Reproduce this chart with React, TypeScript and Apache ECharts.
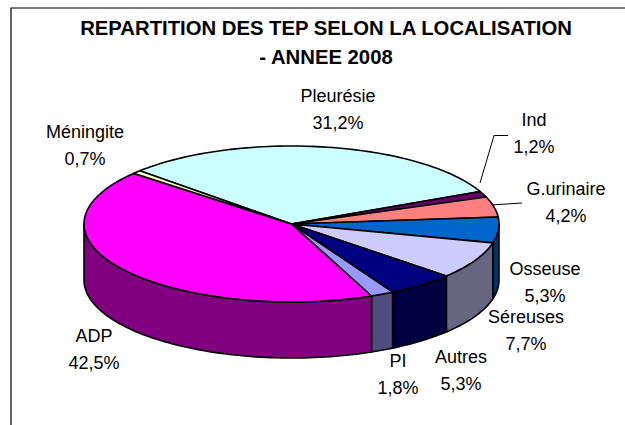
import React, { useEffect, useRef } from "react";
import * as echarts from "echarts";

const categories = ["Pleurésie", "Ind", "G.urinaire", "Osseuse", "Séreuses", "Autres", "PI", "ADP", "Méningite"];
const shares = [31.2, 1.2, 4.2, 5.3, 7.7, 5.3, 1.8, 42.5, 0.7];
const topColors = ["#CCFFFF", "#660066", "#FF8080", "#0066CC", "#CCCCFF", "#000080", "#9999FF", "#FF00FF", "#FFFFCC"];
const sideColors = ["#668080", "#330033", "#804040", "#003366", "#666680", "#000040", "#4D4D80", "#800080", "#808066"];
const labelCentres = [[338, 96], [534, 120], [566, 189], [545, 269], [526, 317], [461, 357], [398, 361], [94, 336], [85, 132]];
const titleLines = "REPARTITION DES TEP SELON LA LOCALISATION\n- ANNEE 2008";

const CX = 291.5, CY = 224, RX = 207.5, RY = 78, DEPTH = 56, START = -47;
const total = shares.reduce((a, b) => a + b, 0);
const rad = (d: number) => (d * Math.PI) / 180;
const px = (d: number) => CX + RX * Math.sin(rad(d));
const py = (d: number) => CY - RY * Math.cos(rad(d));

function arc(a: number, b: number, dy = 0) {
  const pts: number[][] = [];
  const n = Math.max(2, Math.ceil(Math.abs(b - a) / 1.5));
  for (let i = 0; i <= n; i++) {
    const t = a + ((b - a) * i) / n;
    pts.push([px(t), py(t) + dy]);
  }
  return pts;
}
function range(i: number) {
  const before = shares.slice(0, i).reduce((x, y) => x + y, 0);
  return [START + (before / total) * 360, START + ((before + shares[i]) / total) * 360];
}
const line = { stroke: "#000", lineWidth: 1.6, lineJoin: "round" as const };

const renderSide = (_: any, api: any) => {
  const i = api.value(0) as number;
  const [a, b] = range(i);
  const parts: any[] = [];
  for (const [lo, hi] of [[90, 270], [450, 630]]) {
    const s = Math.max(a, lo), e = Math.min(b, hi);
    if (e > s) {
      const pts = [...arc(s, e), ...arc(e, s, DEPTH)];
      parts.push({ type: "polygon", shape: { points: pts }, style: { fill: sideColors[i], ...line } });
    }
  }
  return { type: "group", children: parts };
};
const renderTop = (_: any, api: any) => {
  const i = api.value(0) as number;
  const [a, b] = range(i);
  return {
    type: "polygon",
    shape: { points: [[CX, CY], ...arc(a, b)] },
    style: { fill: topColors[i], ...line },
  };
};

const fmt = (v: number) => `${v.toFixed(1).replace(".", ",")}%`;

export default function App() {
  const ref = useRef<HTMLDivElement>(null);
  useEffect(() => {
    const chart = echarts.init(ref.current!, undefined, { renderer: "svg" });
    const data = shares.map((v, i) => [i, v]);
    chart.setOption({
      animation: false,
      title: {
        text: titleLines,
        left: 321,
        top: 8,
        textAlign: "center",
        textStyle: { fontFamily: "Liberation Sans", fontSize: 20.3, fontWeight: "bold", color: "#000", lineHeight: 29 },
      },
      series: [
        { type: "custom", coordinateSystem: "none", data, renderItem: renderSide, silent: true, z: 2 },
        { type: "custom", coordinateSystem: "none", data, renderItem: renderTop, silent: true, z: 3 },
      ],
      graphic: [
        { type: "polyline", shape: { points: [[11, 425], [11, 8], [625, 8]] }, style: { stroke: "#000", fill: "none", lineWidth: 1.2 } },
        { type: "polyline", shape: { points: [[480, 183], [494, 135.5], [508, 135.5]] }, style: { stroke: "#000", fill: "none", lineWidth: 1 } },
        { type: "polyline", shape: { points: [[491, 205], [522, 203]] }, style: { stroke: "#000", fill: "none", lineWidth: 1 } },
        ...categories.map((c, i) => ({
          type: "text",
          x: labelCentres[i][0],
          y: labelCentres[i][1] + 13.5,
          style: {
            text: `${c}\n${fmt(shares[i])}`,
            align: "center",
            verticalAlign: "middle",
            fontFamily: "Liberation Sans",
            fontSize: 18,
            lineHeight: 27,
            fill: "#000",
          },
        })),
      ],
    });
    return () => chart.dispose();
  }, []);
  return <div ref={ref} style={{ position: "fixed", left: 0, top: 0, width: 625, height: 425, background: "#fff" }} />;
}
